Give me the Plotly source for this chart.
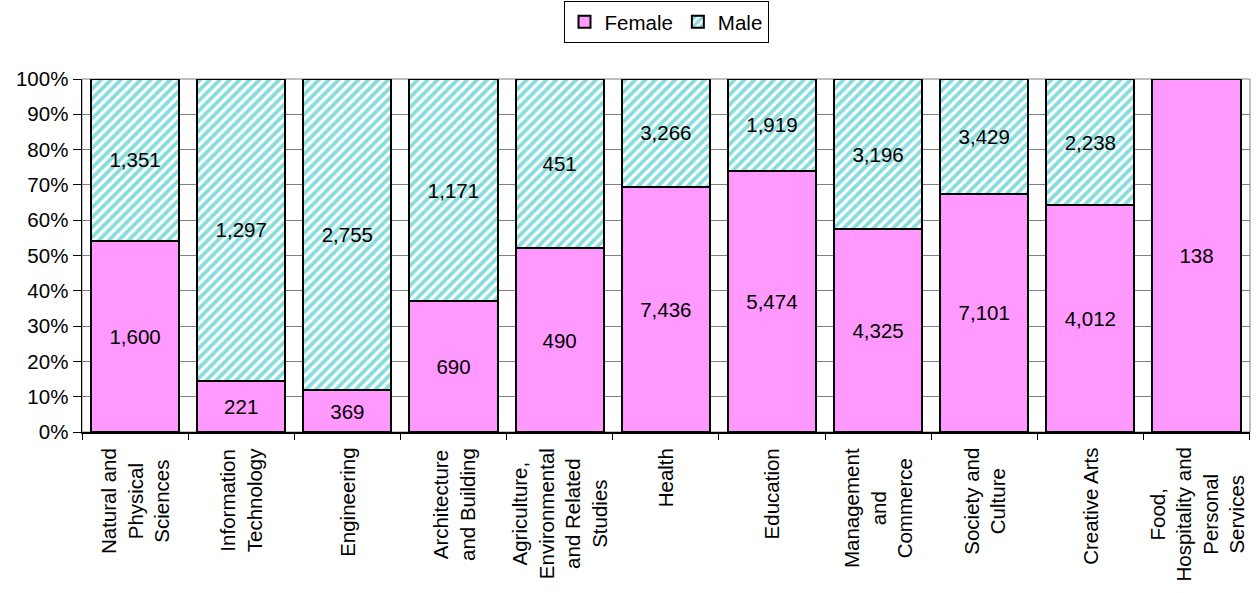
import plotly.graph_objects as go

categories = [
    "Natural and Physical Sciences",
    "Information Technology",
    "Engineering",
    "Architecture and Building",
    "Agriculture, Environmental and Related Studies",
    "Health",
    "Education",
    "Management and Commerce",
    "Society and Culture",
    "Creative Arts",
    "Food, Hospitality and Personal Services",
]
tick_labels = [
    "Natural and<br>Physical<br>Sciences",
    "Information<br>Technology",
    "Engineering",
    "Architecture<br>and Building",
    "Agriculture,<br>Environmental<br>and Related<br>Studies",
    "Health",
    "Education",
    "Management<br>and<br>Commerce",
    "Society and<br>Culture",
    "Creative Arts",
    "Food,<br>Hospitality and<br>Personal<br>Services",
]
female = [1600, 221, 369, 690, 490, 7436, 5474, 4325, 7101, 4012, 138]
male = [1351, 1297, 2755, 1171, 451, 3266, 1919, 3196, 3429, 2238, 0]

FONT = "Liberation Sans, Arial, sans-serif"
FS = 20.5

def labels(vals):
    return [f"{v:,}" if v > 0 else "" for v in vals]

fig = go.Figure()
fig.add_trace(go.Bar(
    name="Female", x=categories, y=female,
    text=labels(female), textposition="inside", insidetextanchor="middle",
    textangle=0, textfont=dict(family=FONT, size=FS, color="black"),
    marker=dict(color="#FF99FF", line=dict(color="black", width=2)),
    hoverinfo="skip",
))
fig.add_trace(go.Bar(
    name="Male", x=categories, y=male,
    text=labels(male), textposition="inside", insidetextanchor="middle",
    textangle=0, textfont=dict(family=FONT, size=FS, color="black"),
    marker=dict(color="white", line=dict(color="black", width=2),
                pattern=dict(shape="/", fgcolor="#12BABA", bgcolor="white",
                             size=7, solidity=0.55)),
    hoverinfo="skip",
))

annotations = [
    dict(x=c, y=0, xref="x", yref="paper", text=t, textangle=-90, showarrow=False,
         xanchor="center", yanchor="top", yshift=-14, align="center",
         font=dict(family=FONT, size=FS, color="black"))
    for c, t in zip(categories, tick_labels)
]

fig.update_layout(
    barmode="stack", barnorm="percent", bargap=0.17,
    width=1258, height=593,
    margin=dict(l=82, r=8, t=79, b=161, autoexpand=False),
    paper_bgcolor="white", plot_bgcolor="white",
    font=dict(family=FONT, size=FS, color="black"),
    uniformtext=dict(minsize=FS, mode="show"),
    showlegend=True,
    legend=dict(orientation="h", traceorder="normal",
                x=0.5, xanchor="center",
                yref="container", y=1 - 1 / 593, yanchor="top",
                bordercolor="black", borderwidth=1, font=dict(size=FS),
                itemwidth=30, tracegroupgap=0),
    annotations=annotations,
    shapes=[dict(type="rect", xref="paper", yref="paper", x0=0, x1=1, y0=0, y1=1,
                 line=dict(color="#808080", width=1), layer="below")],
)
fig.update_yaxes(range=[0, 100], tickvals=list(range(0, 101, 10)),
                 ticktext=[f"{v}%" for v in range(0, 101, 10)],
                 showgrid=True, gridcolor="#808080", gridwidth=1,
                 showline=True, linecolor="black", linewidth=1.5,
                 ticks="outside", ticklen=8, tickcolor="black",
                 tickfont=dict(size=FS), zeroline=False, automargin=False)
fig.update_xaxes(showticklabels=False, showline=True, linecolor="black", linewidth=1.5,
                 ticks="outside", tickson="boundaries", ticklen=6, tickcolor="black",
                 automargin=False)

fig.write_html("out.html", config={"displayModeBar": False, "staticPlot": True},
               post_script="document.body.style.margin='0';document.body.style.overflow='hidden';")
